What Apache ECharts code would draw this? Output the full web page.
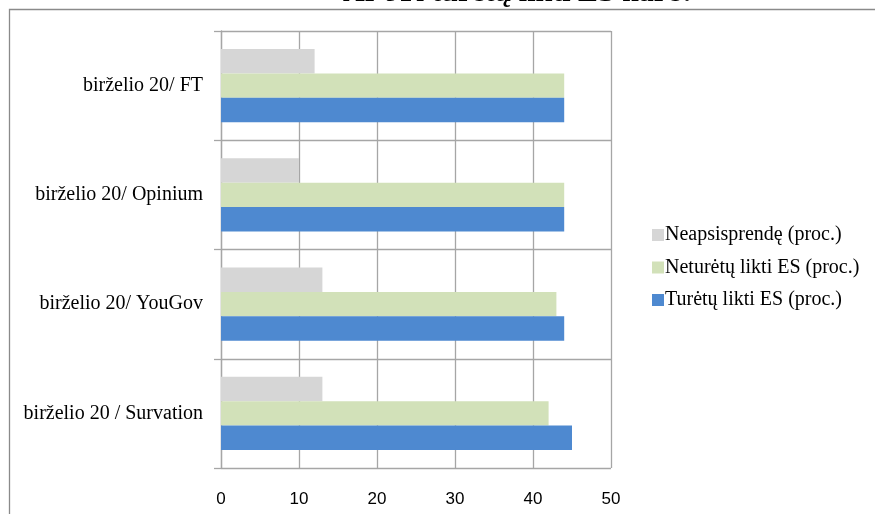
<!DOCTYPE html>
<html>
<head>
<meta charset="utf-8">
<script src="https://cdn.jsdelivr.net/npm/echarts@6/dist/echarts.min.js"></script>
<style>
html,body{margin:0;padding:0;background:#fff;}
#chart{width:875px;height:514px;}
</style>
</head>
<body>
<div id="chart"></div>
<script>
// Categories listed bottom to top
const categories = ['birželio 20 / Survation', 'birželio 20/ YouGov', 'birželio 20/ Opinium', 'birželio 20/ FT'];
const seriesNames = ['Neapsisprendę (proc.)', 'Neturėtų likti ES (proc.)', 'Turėtų likti ES (proc.)'];
const undecided = [13, 13, 10, 12];
const leave = [42, 43, 44, 44];
const remain = [45, 44, 44, 44];
const xTicks = { min: 0, max: 50, interval: 10 };
const titleText = 'Ar JK turėtų likti ES narė?';

const chart = echarts.init(document.getElementById('chart'), null, { renderer: 'canvas' });
const gridColor = '#a6a6a6';
chart.setOption({
  backgroundColor: '#ffffff',
  animation: false,
  title: {
    text: titleText,
    left: 343,
    top: -22,
    padding: 0,
    textStyle: { fontFamily: 'Liberation Serif', fontWeight: 'bold', fontSize: 30, color: '#000' }
  },
  graphic: [{
    type: 'rect',
    z: -1,
    shape: { x: 9.5, y: 9.5, width: 1000, height: 1000 },
    style: { fill: 'none', stroke: '#8a8a8a', lineWidth: 1.3 }
  }],
  legend: {
    orient: 'vertical',
    left: 652,
    top: 225,
    padding: 0,
    itemWidth: 12,
    itemHeight: 12,
    itemGap: 12.5,
    icon: 'rect',
    data: [seriesNames[0], seriesNames[1], seriesNames[2]],
    textStyle: { fontFamily: 'Liberation Serif', fontSize: 20, color: '#000', padding: [0, 0, 0, -4] }
  },
  grid: { left: 221, top: 31, right: 264, bottom: 46, containLabel: false },
  xAxis: {
    type: 'value',
    min: xTicks.min, max: xTicks.max, interval: xTicks.interval,
    axisLine: { show: false },
    axisTick: { show: false },
    axisLabel: { fontFamily: 'Liberation Sans', fontSize: 17, color: '#000', margin: 23 },
    splitLine: { show: true, lineStyle: { color: gridColor, width: 1.3 } }
  },
  yAxis: {
    type: 'category',
    data: categories,
    axisLine: { show: true, lineStyle: { color: gridColor, width: 1.3 } },
    axisTick: { show: true, length: 7, lineStyle: { color: gridColor, width: 1.3 } },
    axisLabel: { fontFamily: 'Liberation Serif', fontSize: 20, color: '#000', margin: 18 },
    splitLine: { show: true, lineStyle: { color: gridColor, width: 1.3 } }
  },
  series: [
    { name: seriesNames[0], type: 'bar', data: undecided, itemStyle: { color: '#d6d6d6' }, barGap: '0%', barCategoryGap: '33%' },
    { name: seriesNames[1], type: 'bar', data: leave, itemStyle: { color: '#d2e1b9' }, barGap: '0%', barCategoryGap: '33%' },
    { name: seriesNames[2], type: 'bar', data: remain, itemStyle: { color: '#4e89d0' }, barGap: '0%', barCategoryGap: '33%' }
  ]
});
</script>
</body>
</html>
